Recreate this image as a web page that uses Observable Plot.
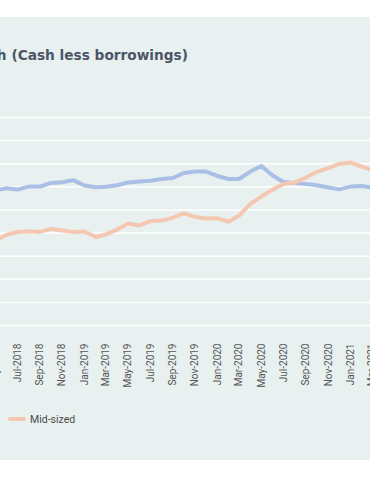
<!DOCTYPE html>
<html><head><meta charset="utf-8">
<script src="https://cdn.jsdelivr.net/npm/d3@7"></script>
<script src="https://cdn.jsdelivr.net/npm/@observablehq/plot@0.6"></script>
<style>
html,body{margin:0;padding:0;background:#fff;width:370px;height:490px;overflow:hidden;position:relative}
#panel{position:absolute;left:0;top:17px;width:370px;height:443px;background:#e8f0f0}
#title{position:absolute;right:182px;top:48.2px;font:700 13.7px/14px "DejaVu Sans";color:#4b5565;white-space:nowrap}
#chart{position:absolute;left:0;top:0}
#legend{position:absolute;left:8px;top:413px;font:10.5px/13px Roboto;color:#4a4a4a;white-space:nowrap}
#legend .sw{position:absolute;left:0;top:3.7px;width:17.5px;height:4px;border-radius:2px}
#legend .lb{position:absolute;left:22px;top:0}
</style></head>
<body>
<div id="panel"></div>
<div id="title">Net cash (Cash less borrowings)</div>
<div id="chart"></div>
<div id="legend"></div>
<script>
const months = ["2018-05","2018-06","2018-07","2018-08","2018-09","2018-10","2018-11","2018-12",
  "2019-01","2019-02","2019-03","2019-04","2019-05","2019-06","2019-07","2019-08","2019-09","2019-10","2019-11","2019-12",
  "2020-01","2020-02","2020-03","2020-04","2020-05","2020-06","2020-07","2020-08","2020-09","2020-10","2020-11","2020-12",
  "2021-01","2021-02","2021-03"];
const large = [58.4,59.4,58.8,60.1,60.1,61.7,62.0,62.9,
  60.6,59.8,60.0,60.7,61.9,62.3,62.6,63.4,63.8,66.0,66.6,66.6,
  64.7,63.4,63.4,66.6,69.0,64.9,62.1,61.7,61.2,60.7,59.7,58.9,
  60.1,60.4,59.7];
const midSized = [36.8,39.2,40.5,40.8,40.5,41.8,41.1,40.5,
  40.7,38.3,39.4,41.5,44.1,43.3,45.2,45.4,46.7,48.5,47.0,46.3,
  46.4,44.9,47.6,52.6,55.8,58.8,61.2,61.9,64.0,66.5,68.1,69.9,
  70.5,68.8,67.3];
const seriesNames = ["Large","Mid-sized"];
const seriesColors = ["#aabfe6","#f4c7b1"];
const legendSeries = ["Mid-sized"];
const yTicks = [0,10,20,30,40,50,60,70,80,90];
const xTickMonths = ["2018-05","2018-07","2018-09","2018-11","2019-01","2019-03","2019-05","2019-07","2019-09","2019-11",
  "2020-01","2020-03","2020-05","2020-07","2020-09","2020-11","2021-01","2021-03"];

const parse = s => new Date(s + "-01T00:00:00Z");
const rows = [];
seriesNames.forEach((name, k) => {
  const vals = k === 0 ? large : midSized;
  months.forEach((m, i) => rows.push({date: parse(m), value: vals[i], series: name}));
});

const chart = Plot.plot({
  width: 370, height: 400,
  marginTop: 117, marginBottom: 75, marginLeft: 0, marginRight: 0,
  x: {type: "utc", domain: [parse("2018-07"), parse("2021-01")], range: [17, 350], axis: null},
  y: {domain: [0, 90], axis: null},
  color: {domain: seriesNames, range: seriesColors},
  style: {background: "transparent", overflow: "hidden", fontFamily: "Roboto", fontSize: "10px", color: "#555"},
  marks: [
    Plot.gridY({ticks: yTicks, stroke: "#ffffff", strokeOpacity: 1, strokeWidth: 1.5}),
    Plot.line(rows, {x: "date", y: "value", stroke: "series", z: "series", strokeWidth: 4}),
    Plot.axisX({ticks: xTickMonths.map(parse), tickFormat: d3.utcFormat("%b-%Y"), tickRotate: -90, tickSize: 0, tickPadding: 18})
  ]
});
document.getElementById("chart").appendChild(chart);

const lg = document.getElementById("legend");
legendSeries.forEach(name => {
  const sw = document.createElement("div");
  sw.className = "sw";
  sw.style.background = seriesColors[seriesNames.indexOf(name)];
  const lb = document.createElement("div");
  lb.className = "lb";
  lb.textContent = name;
  lg.appendChild(sw); lg.appendChild(lb);
});
</script>
</body></html>
